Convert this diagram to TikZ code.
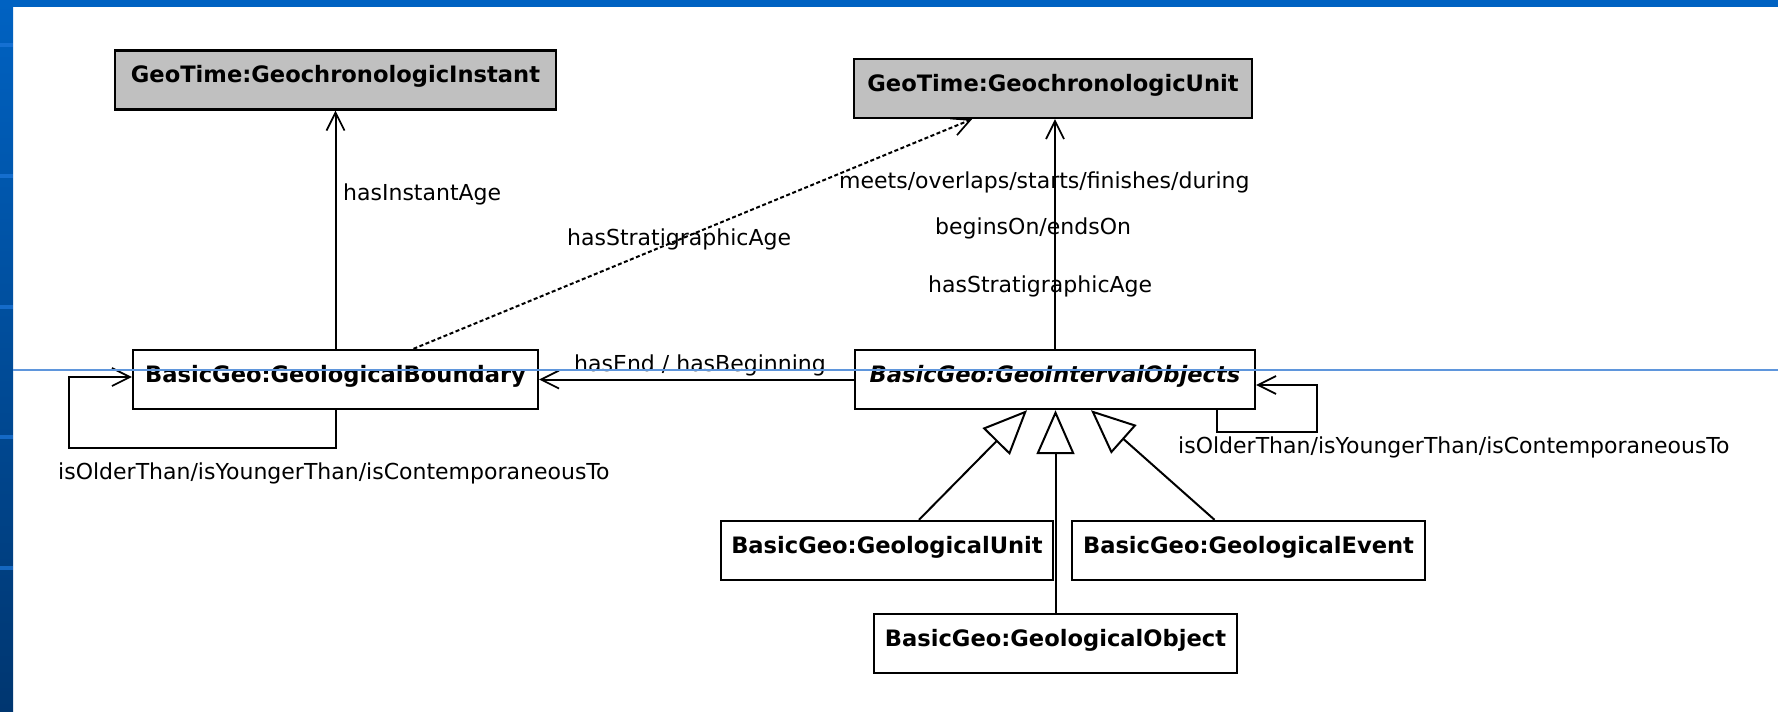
\documentclass[tikz,border=0pt]{standalone}
\usepackage{fontspec}
\setmainfont{DejaVu Sans}[BoldFont=DejaVu Sans Bold, ItalicFont=DejaVu Sans Oblique, BoldItalicFont=DejaVu Sans Bold Oblique]
\usetikzlibrary{arrows.meta,calc}

\definecolor{boxgray}{RGB}{192,192,192}
\definecolor{frameblue}{RGB}{0,98,194}
\definecolor{stripdark}{RGB}{0,54,112}
\definecolor{bandblue}{RGB}{30,120,220}
\definecolor{guideblue}{RGB}{95,150,220}

\tikzset{
  classbox/.style={draw=black, line width=2.4pt, fill=white, inner xsep=0pt, inner ysep=0pt,
    text height=32pt, text depth=27pt, font=\fontsize{22.6}{26}\selectfont\bfseries},
  timebox/.style={classbox, fill=boxgray},
  rel/.style={line width=2pt, -{Straight Barb[length=18pt,width=18pt,line width=1.7pt]}},
  gen/.style={line width=2pt, -{Triangle[open,length=44pt,width=38pt,line width=2pt]}},
  lbl/.style={inner sep=0pt, anchor=base west, font=\fontsize{22}{26}\selectfont},
}

\begin{document}
\begin{tikzpicture}[x=1pt,y=-1pt]
  \useasboundingbox (0,0) rectangle (1778,712);

  % slide background and frame
  \fill[white] (0,0) rectangle (1778,712);
  \shade[top color=frameblue, bottom color=stripdark] (0,0) rectangle (13,712);
  \foreach \yy in {43,174,305,435,566}
    \fill[bandblue, opacity=0.7] (0,\yy) rectangle (13,\yy+4);
  \fill[frameblue] (0,0) rectangle (1778,7);

  % classes
  \node[timebox, minimum width=441pt] (gci) at (335.5,80)   {GeoTime:GeochronologicInstant};
  \node[timebox, minimum width=398pt] (gcu) at (1053,88.5)  {GeoTime:GeochronologicUnit};
  \node[classbox, minimum width=405pt] (bnd) at (335.5,379.5) {BasicGeo:GeologicalBoundary};
  \node[classbox, minimum width=400pt] (gio) at (1055,379.5)  {\itshape BasicGeo:GeoIntervalObjects};
  \node[classbox, minimum width=332pt] (gun) at (887,550.5)   {BasicGeo:GeologicalUnit};
  \node[classbox, minimum width=353pt] (gev) at (1248.5,550.5){BasicGeo:GeologicalEvent};
  \node[classbox, minimum width=363pt] (gob) at (1055.5,643.5){BasicGeo:GeologicalObject};

  % associations
  \draw[rel] (bnd.north) -- (gci.south);
  \draw[rel, dash pattern=on 4pt off 2.5pt] ([xshift=78pt]bnd.north) -- ([xshift=-81pt]gcu.south);
  \draw[rel] (gio.north) -- (gio.north |- gcu.south);
  \draw[rel] (gio.west) -- (bnd.east);

  % self associations
  \coordinate (bloop) at (69,448);
  \draw[rel] (bnd.south) |- (bloop) |- ([yshift=2.5pt]bnd.west);
  \coordinate (iloop) at (1317,432);
  \draw[rel] ([xshift=162pt]gio.south) |- (iloop) |- ([yshift=-5.5pt]gio.east);

  % generalizations
  \draw[gen] ([xshift=32pt]gun.north) -- ([xshift=-28pt]gio.south);
  \draw[gen] (gob.north) -- (gob.north |- gio.south);
  \draw[gen] ([xshift=-34pt]gev.north) -- ([xshift=36pt]gio.south);

  % role labels
  \node[lbl] (lInst)   at (343,200)  {hasInstantAge};
  \node[lbl] (lStratL) at (567,245)  {hasStratigraphicAge};
  \node[lbl] (lMeets)  at (839,188)  {meets/overlaps/starts/finishes/during};
  \node[lbl] (lBegins) at (935,234)  {beginsOn/endsOn};
  \node[lbl] (lStratR) at (928,292)  {hasStratigraphicAge};
  \node[lbl] (lEnd)    at (574,371)  {hasEnd / hasBeginning};
  \node[lbl] (lOldL)   at (58,479)   {isOlderThan/isYoungerThan/isContemporaneousTo};
  \node[lbl] (lOldR)   at (1178,453) {isOlderThan/isYoungerThan/isContemporaneousTo};

  % thin guide line across the slide
  \draw[guideblue, line width=1.2pt] (13,370) -- (1778,370);
\end{tikzpicture}
\end{document}
